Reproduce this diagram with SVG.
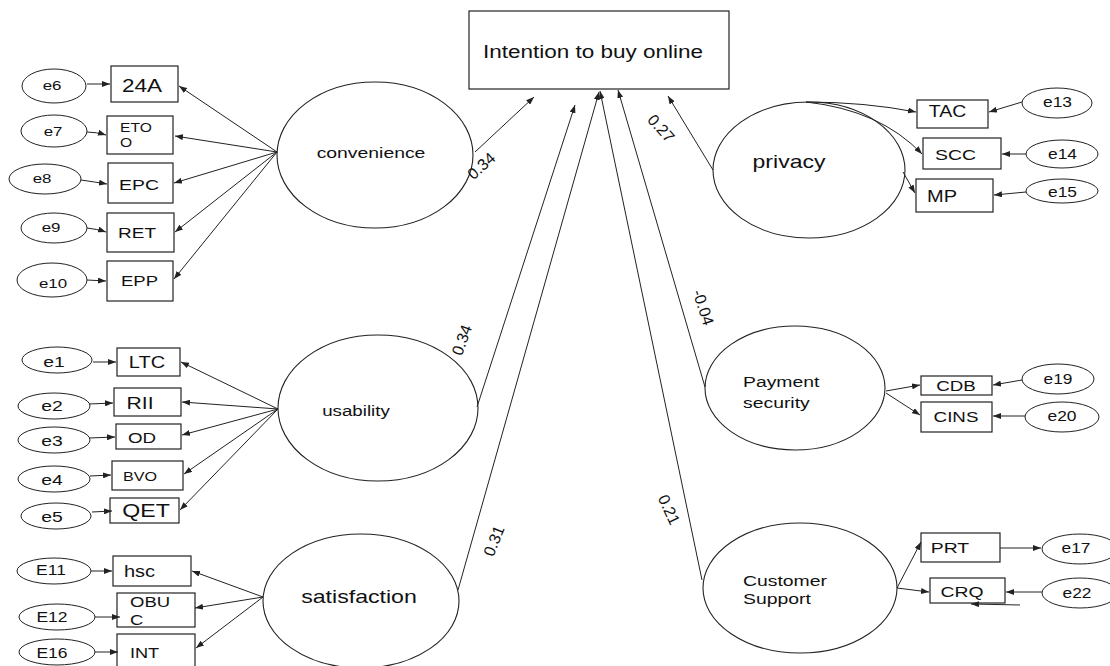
<svg xmlns="http://www.w3.org/2000/svg" width="1110" height="666" viewBox="0 0 1110 666">
<defs>
<marker id="ah" markerWidth="8" markerHeight="6" refX="8" refY="3" orient="auto" markerUnits="userSpaceOnUse">
<path d="M0,0 L8,3 L0,6 z" fill="#222"/>
</marker>
<style>
.box{fill:#fff;stroke:#222;stroke-width:1.2}
.lat{fill:#fff;stroke:#222;stroke-width:1.1}
.err{fill:#fff;stroke:#222;stroke-width:1}
.c{fill:none;stroke:#222;stroke-width:1;marker-end:url(#ah)}
text{font-family:"Liberation Sans",Arial,sans-serif;fill:#111}
.mid{text-anchor:middle}
.lab{font-size:16px;text-anchor:middle}
</style>
</defs>
<rect width="1110" height="666" fill="#fff"/>

<g id="intention"><rect class="box" x="469" y="11" width="260" height="78"/><text class="mid" transform="matrix(1.25,0,0,1,593,58)" font-size="18">Intention to buy online</text></g>

<g id="convenience"><ellipse class="lat" cx="375" cy="155" rx="98" ry="73"/><text class="mid" transform="matrix(1.25,0,0,1,371,158)" font-size="15.5">convenience</text></g>
<g id="usability"><ellipse class="lat" cx="378" cy="408" rx="100" ry="73"/><text class="mid" transform="matrix(1.25,0,0,1,356,416)" font-size="15">usability</text></g>
<g id="satisfaction"><ellipse class="lat" cx="361" cy="601" rx="98" ry="67"/><text class="mid" transform="matrix(1.25,0,0,1,359,603)" font-size="18.5">satisfaction</text></g>
<g id="privacy"><ellipse class="lat" cx="809" cy="170" rx="96" ry="68"/><text class="mid" transform="matrix(1.25,0,0,1,789,168)" font-size="18.4">privacy</text></g>
<g id="payment"><ellipse class="lat" cx="795" cy="388" rx="90" ry="62"/><text transform="matrix(1.25,0,0,1,743,387)" font-size="15.5">Payment</text><text transform="matrix(1.25,0,0,1,743,408)" font-size="15.5">security</text></g>
<g id="support"><ellipse class="lat" cx="800" cy="588" rx="97" ry="65"/><text transform="matrix(1.25,0,0,1,743,586)" font-size="15.5">Customer</text><text transform="matrix(1.25,0,0,1,743,604)" font-size="15.5">Support</text></g>

<g id="n24A"><rect class="box" x="111" y="66" width="67" height="36"/><text class="mid" transform="matrix(1.25,0,0,1,142,92)" font-size="18">24A</text></g>
<g id="nETOO"><rect class="box" x="107" y="116" width="66" height="38"/><text transform="matrix(1.25,0,0,1,120,132)" font-size="12.5">ETO</text><text transform="matrix(1.25,0,0,1,120,147)" font-size="12.5">O</text></g>
<g id="nEPC"><rect class="box" x="108" y="163" width="65" height="40"/><text class="mid" transform="matrix(1.25,0,0,1,139,190)" font-size="15.5">EPC</text></g>
<g id="nRET"><rect class="box" x="107" y="213" width="67" height="39"/><text class="mid" transform="matrix(1.25,0,0,1,137,238)" font-size="15.2">RET</text></g>
<g id="nEPP"><rect class="box" x="107" y="261" width="66" height="40"/><text class="mid" transform="matrix(1.25,0,0,1,139.5,286)" font-size="14.8">EPP</text></g>

<g id="ne6"><ellipse class="err" cx="54" cy="86" rx="32" ry="17"/><text class="mid" transform="matrix(1.25,0,0,1,52,90)" font-size="13.5">e6</text></g>
<g id="ne7"><ellipse class="err" cx="54" cy="131" rx="33" ry="16"/><text class="mid" transform="matrix(1.25,0,0,1,53,136)" font-size="13.5">e7</text></g>
<g id="ne8"><ellipse class="err" cx="45" cy="179" rx="36" ry="15"/><text class="mid" transform="matrix(1.25,0,0,1,42,183)" font-size="13.5">e8</text></g>
<g id="ne9"><ellipse class="err" cx="54" cy="228" rx="33" ry="15"/><text class="mid" transform="matrix(1.25,0,0,1,51,232)" font-size="13.5">e9</text></g>
<g id="ne10"><ellipse class="err" cx="52" cy="280" rx="35" ry="17"/><text class="mid" transform="matrix(1.25,0,0,1,53,288)" font-size="13.5">e10</text></g>

<g id="nLTC"><rect class="box" x="117" y="348" width="63" height="28"/><text class="mid" transform="matrix(1.25,0,0,1,147,368)" font-size="16">LTC</text></g>
<g id="nRII"><rect class="box" x="114" y="388" width="67" height="28"/><text class="mid" transform="matrix(1.25,0,0,1,140,409)" font-size="16.9">RII</text></g>
<g id="nOD"><rect class="box" x="116" y="424" width="65" height="25"/><text class="mid" transform="matrix(1.25,0,0,1,142,443)" font-size="15">OD</text></g>
<g id="nBVO"><rect class="box" x="112" y="461" width="71" height="29"/><text class="mid" transform="matrix(1.25,0,0,1,140,481)" font-size="12.9">BVO</text></g>
<g id="nQET"><rect class="box" x="110" y="498" width="69" height="25"/><text class="mid" transform="matrix(1.25,0,0,1,146,517)" font-size="18.5">QET</text></g>

<g id="ne1"><ellipse class="err" cx="57" cy="360" rx="35" ry="13"/><text class="mid" transform="matrix(1.25,0,0,1,54,367)" font-size="15.5">e1</text></g>
<g id="ne2"><ellipse class="err" cx="54" cy="406" rx="36" ry="13"/><text class="mid" transform="matrix(1.25,0,0,1,52,411)" font-size="15.5">e2</text></g>
<g id="ne3"><ellipse class="err" cx="54" cy="440" rx="36" ry="13"/><text class="mid" transform="matrix(1.25,0,0,1,52,446)" font-size="15.5">e3</text></g>
<g id="ne4"><ellipse class="err" cx="54" cy="479" rx="36" ry="13"/><text class="mid" transform="matrix(1.25,0,0,1,52,485)" font-size="15.5">e4</text></g>
<g id="ne5"><ellipse class="err" cx="56" cy="516" rx="35" ry="13"/><text class="mid" transform="matrix(1.25,0,0,1,52,522)" font-size="15.5">e5</text></g>

<g id="nhsc"><rect class="box" x="113" y="556" width="78" height="30"/><text transform="matrix(1.25,0,0,1,124,577)" font-size="16">hsc</text></g>
<g id="nOBUC"><rect class="box" x="117" y="593" width="78" height="34"/><text transform="matrix(1.25,0,0,1,130,607)" font-size="14.8">OBU</text><text transform="matrix(1.25,0,0,1,130,625)" font-size="14.8">C</text></g>
<g id="nINT"><rect class="box" x="117" y="634" width="78" height="40"/><text transform="matrix(1.25,0,0,1,130,658)" font-size="14.5">INT</text></g>

<g id="nE11"><ellipse class="err" cx="54" cy="571" rx="37" ry="13"/><text class="mid" transform="matrix(1.25,0,0,1,51,575)" font-size="14">E11</text></g>
<g id="nE12"><ellipse class="err" cx="57" cy="617" rx="38" ry="13"/><text class="mid" transform="matrix(1.25,0,0,1,52,622)" font-size="14">E12</text></g>
<g id="nE16"><ellipse class="err" cx="57" cy="652" rx="38" ry="13"/><text class="mid" transform="matrix(1.25,0,0,1,52,658)" font-size="14">E16</text></g>

<g id="nTAC"><rect class="box" x="917" y="100" width="71" height="28"/><text class="mid" transform="matrix(1.25,0,0,1,947.5,117)" font-size="15.6">TAC</text></g>
<g id="nSCC"><rect class="box" x="923" y="138" width="78" height="31"/><text class="mid" transform="matrix(1.25,0,0,1,955.5,160)" font-size="15.5">SCC</text></g>
<g id="nMP"><rect class="box" x="916" y="179" width="77" height="33"/><text class="mid" transform="matrix(1.25,0,0,1,942,202)" font-size="16">MP</text></g>
<g id="ne13"><ellipse class="err" cx="1057" cy="103" rx="35" ry="15"/><text class="mid" transform="matrix(1.25,0,0,1,1057.5,107)" font-size="13.9">e13</text></g>
<g id="ne14"><ellipse class="err" cx="1062" cy="154" rx="36" ry="14"/><text class="mid" transform="matrix(1.25,0,0,1,1062.5,159)" font-size="13.9">e14</text></g>
<g id="ne15"><ellipse class="err" cx="1062" cy="191" rx="36" ry="12"/><text class="mid" transform="matrix(1.25,0,0,1,1062.5,197)" font-size="13.9">e15</text></g>

<g id="nCDB"><rect class="box" x="921" y="376" width="71" height="19"/><text class="mid" transform="matrix(1.25,0,0,1,956,391)" font-size="15">CDB</text></g>
<g id="nCINS"><rect class="box" x="921" y="402" width="71" height="30"/><text class="mid" transform="matrix(1.25,0,0,1,956,422)" font-size="15">CINS</text></g>
<g id="ne19"><ellipse class="err" cx="1058" cy="379" rx="36" ry="15"/><text class="mid" transform="matrix(1.25,0,0,1,1058,384)" font-size="13.9">e19</text></g>
<g id="ne20"><ellipse class="err" cx="1062" cy="417" rx="37" ry="15"/><text class="mid" transform="matrix(1.25,0,0,1,1062,421)" font-size="13.9">e20</text></g>

<g id="nPRT"><rect class="box" x="921" y="533" width="79" height="29"/><text class="mid" transform="matrix(1.25,0,0,1,950,553)" font-size="15.5">PRT</text></g>
<g id="nCRQ"><rect class="box" x="930" y="578" width="75" height="25"/><text class="mid" transform="matrix(1.25,0,0,1,962,597)" font-size="15.5">CRQ</text></g>
<g id="ne17"><ellipse class="err" cx="1080" cy="549" rx="38" ry="15"/><text class="mid" transform="matrix(1.25,0,0,1,1076,553)" font-size="13.9">e17</text></g>
<g id="ne22"><ellipse class="err" cx="1080" cy="593" rx="38" ry="15"/><text class="mid" transform="matrix(1.25,0,0,1,1077,598)" font-size="13.9">e22</text></g>

<g id="connectors">
<path class="c" d="M475,152 L534,97"/>
<path class="c" d="M477,407 L575,105"/>
<path class="c" d="M458,590 L599,92"/>
<path class="c" d="M702,580 L600,91"/>
<path class="c" d="M705,387 L618,90"/>
<path class="c" d="M713,170 L668,96"/>

<path class="c" d="M277,152 L179,86"/>
<path class="c" d="M277,152 L175,136"/>
<path class="c" d="M277,152 L174,183"/>
<path class="c" d="M277,152 L175,232"/>
<path class="c" d="M277,152 L174,279"/>
<path class="c" d="M87,84 L110,84"/>
<path class="c" d="M87,132 Q96,132 106,135"/>
<path class="c" d="M81,180 Q95,182 107,184"/>
<path class="c" d="M87,228 Q97,229 106,232"/>
<path class="c" d="M87,280 L106,281"/>

<path class="c" d="M278,409 L181,362"/>
<path class="c" d="M278,409 L182,402"/>
<path class="c" d="M278,409 L182,435"/>
<path class="c" d="M278,409 L184,474"/>
<path class="c" d="M278,409 L180,510"/>
<path class="c" d="M93,362 L116,362"/>
<path class="c" d="M89,404 L113,403"/>
<path class="c" d="M89,438 L115,437"/>
<path class="c" d="M90,476 L111,475"/>
<path class="c" d="M92,512 L112,511"/>

<path class="c" d="M263,597 L192,571"/>
<path class="c" d="M263,597 L195,608"/>
<path class="c" d="M263,597 L196,648"/>
<path class="c" d="M91,571 L112,571"/>
<path class="c" d="M95,617 L120,617"/>
<path class="c" d="M95,652 L118,652"/>

<path class="c" d="M806,102 Q865,102 916,112"/>
<path class="c" d="M806,102 Q880,110 922,154"/>
<path class="c" d="M903,172 L915,193"/>
<path class="c" d="M1022,102 L989,112"/>
<path class="c" d="M1026,154 L1002,154"/>
<path class="c" d="M1026,192 L994,195"/>

<path class="c" d="M886,391 L920,385"/>
<path class="c" d="M886,393 L920,415"/>
<path class="c" d="M1022,380 L993,385"/>
<path class="c" d="M1025,416 L993,416"/>

<path class="c" d="M897,588 L921,542"/>
<path class="c" d="M897,588 L929,592"/>
<path class="c" d="M1000,548 L1041,548"/>
<path class="c" d="M1042,592 L1006,592"/>
<path class="c" d="M1020,605 L971,604"/>
</g>

<g id="labels">
<text class="lab" transform="translate(485,170) rotate(-42)">0.34</text>
<text class="lab" transform="translate(657,132) rotate(48)">0.27</text>
<text class="lab" transform="translate(467,342) rotate(-70)">0.34</text>
<text class="lab" transform="translate(499,543) rotate(-68)">0.31</text>
<text class="lab" transform="translate(664,512) rotate(65)">0.21</text>
<text class="lab" transform="translate(698,309) rotate(72)">-0.04</text>
</g>
</svg>
